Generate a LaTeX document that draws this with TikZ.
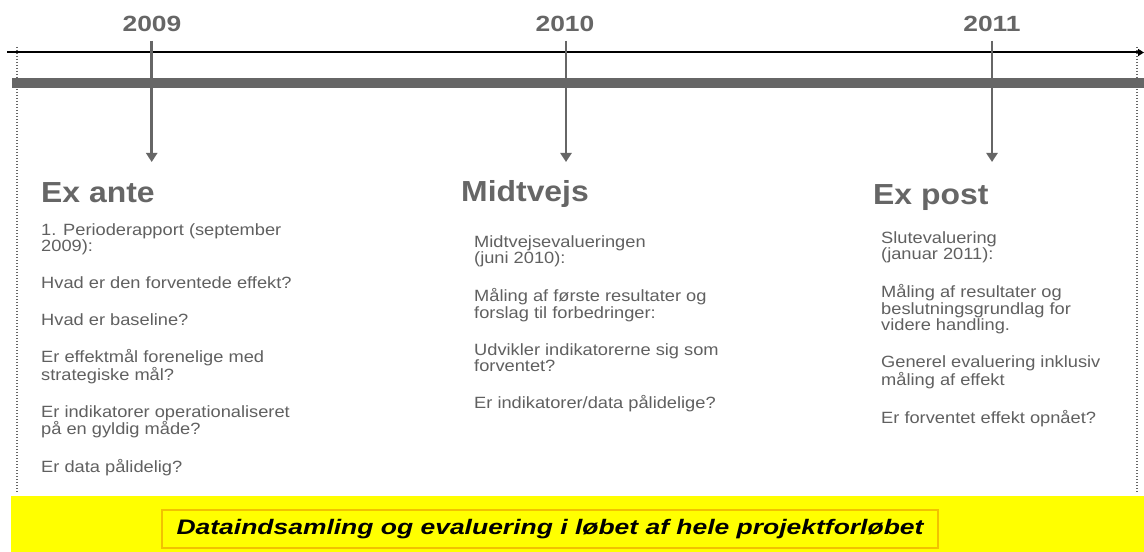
\documentclass[tikz,border=0pt]{standalone}
\usepackage{fontspec}
\setmainfont{Liberation Sans}
\newfontfamily\bodyfont[FakeStretch=1.12]{Liberation Sans}
\newfontfamily\headfont[FakeStretch=1.1]{Liberation Sans}
\newfontfamily\yearfont[FakeStretch=1.2]{Liberation Sans}
\newfontfamily\bandfont[FakeStretch=1.26]{Liberation Sans}
\usetikzlibrary{arrows.meta}
\definecolor{txtgrey}{HTML}{666666}
\definecolor{bodygrey}{HTML}{606060}
\definecolor{bargrey}{HTML}{666666}
\definecolor{bandyellow}{HTML}{FFFF00}
\definecolor{bandborder}{HTML}{F2C200}
\definecolor{dotgrey}{HTML}{666666}
\tikzset{
  yearlabel/.style={anchor=base, inner sep=0pt, text=txtgrey, font=\yearfont\bfseries\fontsize{22bp}{24bp}\selectfont},
  heading/.style={anchor=base west, inner sep=0pt, text=txtgrey, font=\headfont\bfseries\fontsize{29bp}{31bp}\selectfont},
  bodytext/.style={anchor=north west, inner sep=0pt, align=left, text=bodygrey, font=\bodyfont\fontsize{16.3bp}{16.5bp}\selectfont},
  yarrow/.style={draw=bargrey, line width=2.5bp, -{Triangle[width=11bp,length=9bp]}},
  axisline/.style={draw=black, line width=2bp, -{Triangle[width=7bp,length=6bp]}},
  dotline/.style={draw=dotgrey, line width=1.6bp, dash pattern=on 1.3bp off 1.7bp},
  bandbox/.style={draw=bandborder, line width=1.2bp, fill=bandyellow, minimum width=776bp, minimum height=38bp, inner sep=0pt,
    font=\bandfont\bfseries\itshape\fontsize{21bp}{23bp}\selectfont}
}
\begin{document}
\begin{tikzpicture}[x=1bp,y=-1bp]
\useasboundingbox (0,0) rectangle (1144,552);
\fill[white] (0,0) rectangle (1144,552);

% dotted frame lines
\coordinate (dlt) at (17,47);
\coordinate (dlb) at (17,493);
\coordinate (drt) at (1137,47);
\coordinate (drb) at (1137,493);
\draw[dotline] (dlt) -- (dlb);
\draw[dotline] (drt) -- (drb);

% grey bar
\fill[bargrey] (12,77.7) rectangle (1144,87.7);

% axis
\coordinate (axL) at (7,52.5);
\coordinate (axR) at (1144,52.5);
\draw[axisline] (axL) -- (axR);

% years
\node[yearlabel] (y2009) at (152,32) {2009};
\node[yearlabel] (y2010) at (565,32) {2010};
\node[yearlabel] (y2011) at (992,32) {2011};

% arrows
\coordinate (s2009) at (151.7,41);
\coordinate (t2009) at (151.7,162);
\coordinate (s2010) at (566,41);
\coordinate (t2010) at (566,162);
\coordinate (s2011) at (992,41);
\coordinate (t2011) at (992,162);
\draw[yarrow] (s2009) -- (t2009);
\draw[yarrow] (s2010) -- (t2010);
\draw[yarrow] (s2011) -- (t2011);

% headings
\node[heading] (hante) at (41,203) {Ex ante};
\node[heading] (hmid) at (461,202) {Midtvejs};
\node[heading] (hpost) at (873,205) {Ex post};

% body texts
\node[bodytext] (bante) at (41,223) {1. Perioderapport (september\\2009):\\[20.5bp]
Hvad er den forventede effekt?\\[20.5bp]
Hvad er baseline?\\[20.5bp]
Er effektmål forenelige med\\strategiske mål?\\[20.5bp]
Er indikatorer operationaliseret\\på en gyldig måde?\\[20.5bp]
Er data pålidelig?};

\node[bodytext] (bmid) at (474,235) {Midtvejsevalueringen\\(juni 2010):\\[20.5bp]
Måling af første resultater og\\forslag til forbedringer:\\[20.5bp]
Udvikler indikatorerne sig som\\forventet?\\[20.5bp]
Er indikatorer/data pålidelige?};

\node[bodytext] (bpost) at (881,231) {Slutevaluering\\(januar 2011):\\[20.5bp]
Måling af resultater og\\beslutningsgrundlag for\\videre handling.\\[20.5bp]
Generel evaluering inklusiv\\måling af effekt\\[20.5bp]
Er forventet effekt opnået?};

% yellow band
\fill[bandyellow] (10.7,496) rectangle (1144,552);
\node[bandbox] (band) at (550,529) {Dataindsamling og evaluering i løbet af hele projektforløbet};
\end{tikzpicture}
\end{document}
